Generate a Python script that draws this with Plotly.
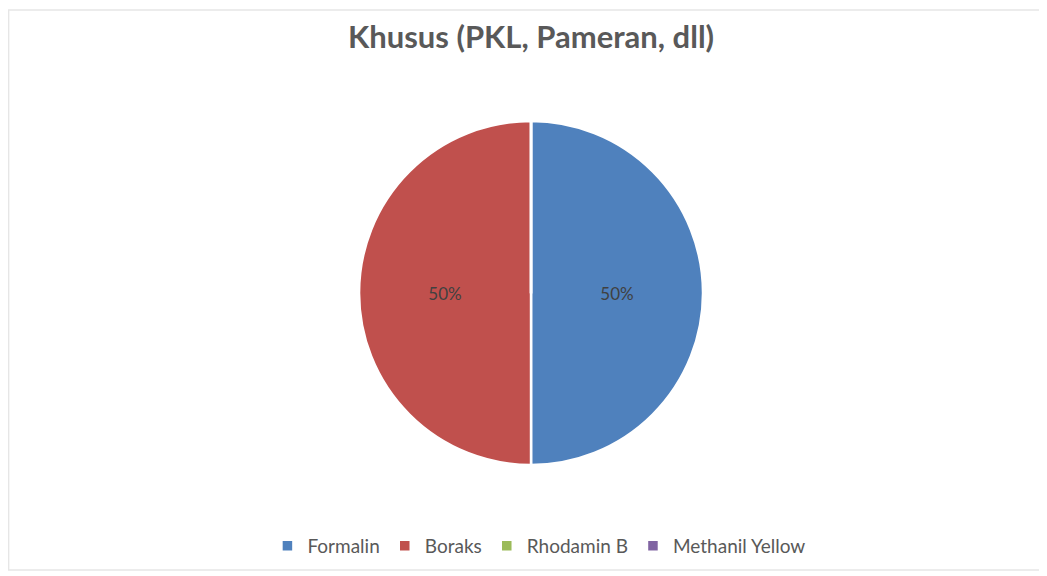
import plotly.graph_objects as go

labels = ["Formalin", "Boraks", "Rhodamin B", "Methanil Yellow"]
values = [1, 1, 0, 0]
colors = ["#4F81BD", "#C0504D", "#9BBB59", "#8064A2"]
title_text = "Khusus (PKL, Pameran, dll)"

FONT = "Lato, Open Sans, sans-serif"

fig = go.Figure(go.Pie(
    labels=labels,
    values=values,
    sort=False,
    direction="clockwise",
    rotation=0,
    marker=dict(colors=colors, line=dict(color="white", width=2.5)),
    texttemplate=["%{percent:.0%}", "%{percent:.0%}", "", ""],
    textposition="inside",
    insidetextorientation="horizontal",
    textfont=dict(family=FONT, size=17, color="#404040"),
    hoverinfo="label+percent",
    domain=dict(x=[0.0068, 1.0], y=[0.1954, 0.801]),
))

fig.update_layout(
    width=1039, height=568,
    margin=dict(l=0, r=0, t=0, b=0),
    paper_bgcolor="white",
    title=dict(text=title_text, x=0.5034, xanchor="center", y=0.949, yanchor="middle",
               font=dict(family=FONT, size=31, color="#595959", weight="bold")),
    legend=dict(orientation="h", x=0.511, xanchor="center", y=0.053, yanchor="middle",
                font=dict(family=FONT, size=19, color="#595959"),
                itemwidth=30, traceorder="normal"),
    shapes=[dict(type="rect", xref="paper", yref="paper", x0=0.0006, x1=0.9933, y0=0.0106, y1=0.9965,
                 line=dict(color="#e6e6e6", width=1.5))],
)

fig.write_html("out.html")
